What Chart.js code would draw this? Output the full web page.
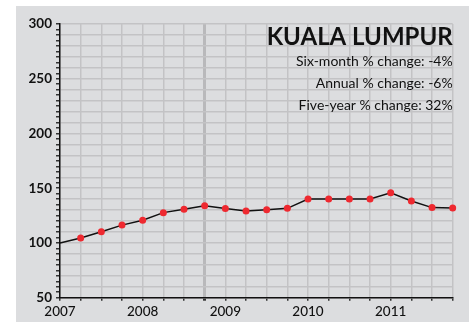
<!DOCTYPE html>
<html>
<head>
<meta charset="utf-8">
<script src="https://cdn.jsdelivr.net/npm/chart.js@4"></script>
<style>
    html, body { margin: 0; padding: 0; background: #fff; }
    #wrap { width: 469px; height: 322px; position: relative; }
</style>
</head>
<body>
<div id="wrap"><canvas id="chart"></canvas></div>
<script>
// Quarterly price index, Kuala Lumpur (Q1 2007 = 100)
const quarters = [
    '2007-Q1', '2007-Q2', '2007-Q3', '2007-Q4',
    '2008-Q1', '2008-Q2', '2008-Q3', '2008-Q4',
    '2009-Q1', '2009-Q2', '2009-Q3', '2009-Q4',
    '2010-Q1', '2010-Q2', '2010-Q3', '2010-Q4',
    '2011-Q1', '2011-Q2', '2011-Q3', '2011-Q4',
];
const indexValues = [
    100, 104.5, 110.3, 116.3,
    120.7, 127.7, 130.8, 134,
    131.5, 129.2, 130.4, 131.6,
    140.2, 140.2, 140.2, 140.2,
    145.8, 138.3, 132.3, 132,
];
const title = 'KUALA LUMPUR';
const changeLines = [
    'Six-month % change: -4%',
    'Annual % change: -6%',
    'Five-year % change: 32%',
];
const yTicksLabelled = [50, 100, 150, 200, 250, 300];
const markedQuarter = '2008-Q4';

const BG = '#dcdddf';
const GRID = '#c3c3c5';
const FONT = 'Lato, "DejaVu Sans", sans-serif';

// gray panel behind everything, and the title block on top
const pluginPanel = {
    id: 'panel',
    beforeDraw: function(chart) {
        const ctx = chart.ctx;
        ctx.save();
        ctx.fillStyle = BG;
        ctx.fillRect(16, 6, chart.width - 16, chart.height - 6);
        ctx.restore();
    },
    afterDraw: function(chart) {
        const ctx = chart.ctx;
        const right = chart.chartArea.right;
        ctx.save();
        ctx.fillStyle = '#111';
        ctx.textAlign = 'right';
        ctx.textBaseline = 'alphabetic';
        ctx.font = 'bold 24px ' + FONT;
        ctx.fillText(title, right, 45);
        ctx.font = '14px ' + FONT;
        for (let i = 0; i < changeLines.length; ++i) {
            ctx.fillText(changeLines[i], right, 66 + i * 22);
        }
        ctx.restore();
    },
};

new Chart(document.getElementById('chart'), {
    type: 'line',
    data: {
        labels: quarters,
        datasets: [{
            data: indexValues,
            borderColor: '#111',
            borderWidth: 1.5,
            tension: 0,
            pointRadius: (c) => c.dataIndex === 0 ? 0 : 3.5,
            pointBackgroundColor: '#ee2930',
            pointBorderWidth: 0,
        }],
    },
    options: {
        responsive: true,
        maintainAspectRatio: false,
        animation: false,
        layout: {padding: {left: 0, right: 16.3, top: 24, bottom: 0}},
        scales: {
            x: {
                type: 'category',
                offset: false,
                border: {display: true, color: '#111', width: 1.5},
                grid: {
                    color: (c) => quarters[c.index] === markedQuarter ? '#b9b9bb' : GRID,
                    lineWidth: (c) => quarters[c.index] === markedQuarter ? 3 : 1.5,
                    tickColor: '#333',
                    tickLength: 3,
                },
                ticks: {
                    autoSkip: false,
                    maxRotation: 0,
                    padding: 3,
                    color: '#111',
                    font: {family: FONT, size: 13.5, weight: '500'},
                    callback: function(v, i) {
                        const q = quarters[i];
                        return q.endsWith('Q1') ? q.slice(0, 4) : '';
                    },
                },
                afterFit: function(scale) { scale.height = 24.3; },
            },
            y: {
                min: 50,
                max: 300,
                border: {display: true, color: '#111', width: 1.5},
                grid: {
                    color: (c) => c.tick && c.tick.value % 10 === 0 ? GRID : 'rgba(0,0,0,0)',
                    lineWidth: 1.5,
                    tickColor: '#333',
                    tickLength: 4,
                },
                ticks: {
                    stepSize: 5,
                    autoSkip: false,
                    padding: 4,
                    color: '#111',
                    font: {family: FONT, size: 13.5, weight: 'bold'},
                    callback: (v) => yTicksLabelled.includes(v) ? String(v) : '',
                },
                afterFit: function(scale) { scale.width = 60; },
            },
        },
        plugins: {
            legend: {display: false},
            tooltip: {enabled: false},
        },
    },
    plugins: [pluginPanel],
});
</script>
</body>
</html>
